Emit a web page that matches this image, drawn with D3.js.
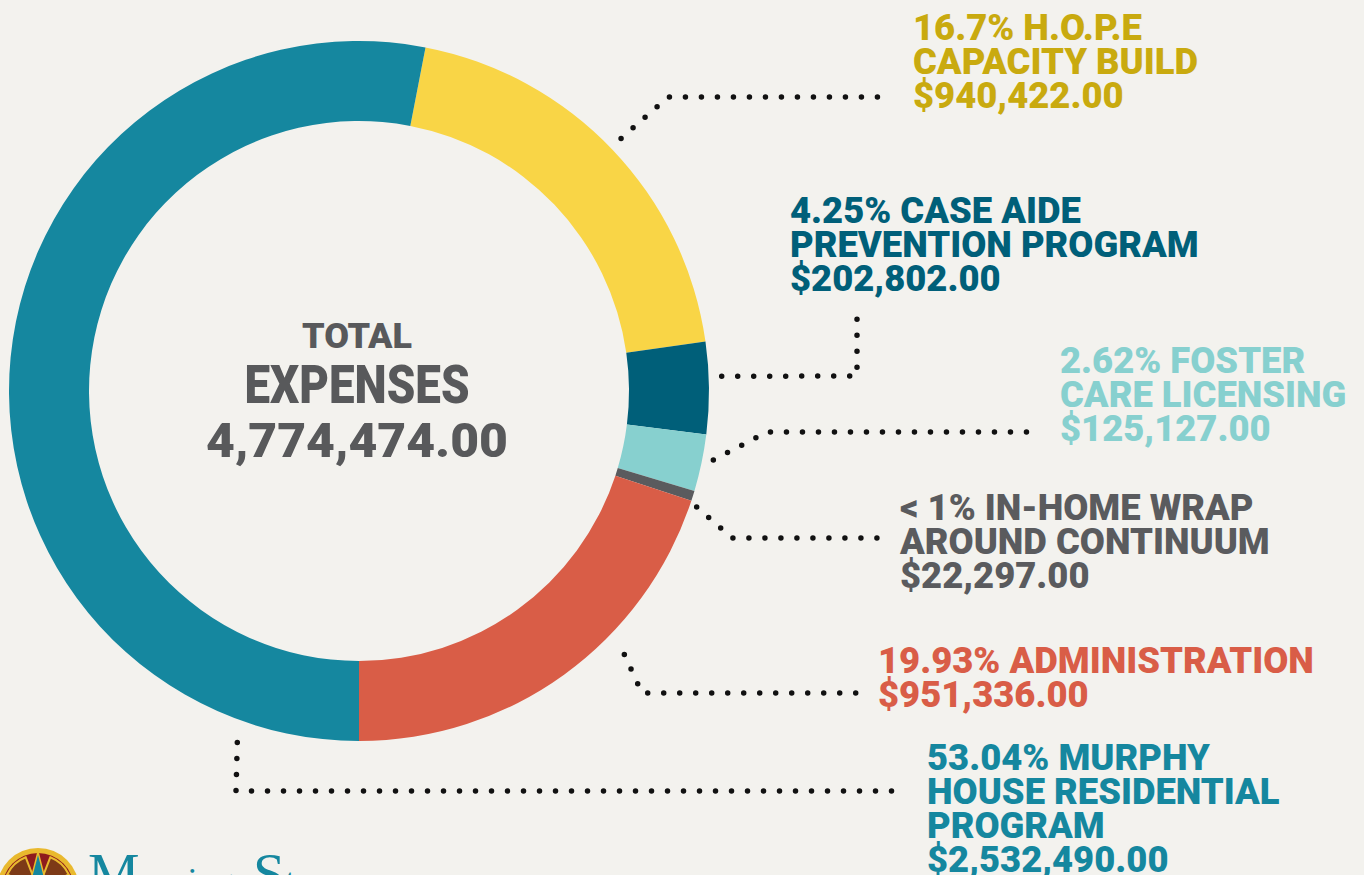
<!DOCTYPE html>
<html>
<head>
<meta charset="utf-8">
<script src="https://cdn.jsdelivr.net/npm/d3@7"></script>
<style>
    html, body { margin: 0; padding: 0; background: #f3f2ee; overflow: hidden; }
    svg { display: block; }
    .lbl { font-family: Roboto, "Open Sans", sans-serif; font-weight: 900; }
</style>
</head>
<body>
<svg id="chart"></svg>
<script>
// chart data
const categories = ["H.O.P.E Capacity Build", "Case Aide Prevention Program", "Foster Care Licensing",
    "In-Home Wrap Around Continuum", "Administration", "Murphy House Residential Program"];
const values = [940422, 202802, 125127, 22297, 951336, 2532490];
const pctLabels = ["16.7%", "4.25%", "2.62%", "< 1%", "19.93%", "53.04%"];
const nameLines = [
    ["H.O.P.E", "CAPACITY BUILD"],
    ["CASE AIDE", "PREVENTION PROGRAM"],
    ["FOSTER", "CARE LICENSING"],
    ["IN-HOME WRAP", "AROUND CONTINUUM"],
    ["ADMINISTRATION"],
    ["MURPHY", "HOUSE RESIDENTIAL", "PROGRAM"]
];
const centerTitle = ["TOTAL", "EXPENSES"];

// styling
const sliceColors = ["#f9d546", "#005f79", "#87d0cf", "#5a5b5e", "#d95d47", "#15879f"];
const textColors = ["#c9aa0f", "#005f79", "#87d0cf", "#5a5b5e", "#d95d47", "#15879f"];

// layout: label anchor (x, first baseline) and leader line bends
const labelPos = [[913, 40], [790, 223], [1060, 373], [900, 520], [878, 673], [927, 770]];
const leaderStart = [[0.495, 14], [0.38, 13], [0.41, 11], [1.4, 7], [0.37, 24], [0.10, 22]];
const leaderBends = [
    [[668, 97], [892, 97]],
    [[857, 376], [857, 310]],
    [[767, 432], [1040, 432]],
    [[732, 538], [889, 538]],
    [[642, 693], [862, 693]],
    [[236, 791], [900, 791]]
];

const width = 1364;
const height = 875;
const cx = 359, cy = 391;
const outerR = 350, innerR = 270;

const svg = d3.select("#chart")
    .attr("width", width)
    .attr("height", height);

svg.append("rect")
    .attr("width", width)
    .attr("height", height)
    .attr("fill", "#f3f2ee");

const total = d3.sum(values);
const murphy = values[values.length - 1];
const start = Math.PI - 2 * Math.PI * (total - murphy) / total;

const pie = d3.pie()
    .sort(null)
    .value(d => d)
    .startAngle(start)
    .endAngle(start + 2 * Math.PI);

const arcs = pie(values);

const arc = d3.arc()
    .innerRadius(innerR)
    .outerRadius(outerR);

const g = svg.append("g").attr("transform", `translate(${cx},${cy})`);

g.selectAll("path")
    .data(arcs)
    .enter().append("path")
    .attr("d", arc)
    .attr("fill", (d, i) => sliceColors[i]);

// center text
const money = d3.format(",.2f");
const centerLines = [
    { text: centerTitle[0], size: 35, y: 348, w: 110 },
    { text: centerTitle[1], size: 53, y: 403, w: 225 },
    { text: money(total), size: 49, y: 457, w: 302 }
];
svg.selectAll("text.center")
    .data(centerLines)
    .enter().append("text")
    .attr("class", "lbl center")
    .attr("x", cx - 2)
    .attr("y", d => d.y)
    .attr("text-anchor", "middle")
    .attr("font-size", d => d.size)
    .attr("fill", "#58595b")
    .attr("textLength", d => d.w)
    .attr("lengthAdjust", "spacingAndGlyphs")
    .text(d => d.text);

// leader lines
const line = d3.line();
arcs.forEach((s, i) => {
    const [t, gap] = leaderStart[i];
    const a = s.startAngle + t * (s.endAngle - s.startAngle);
    const r = outerR + gap;
    const p0 = [cx + r * Math.sin(a), cy - r * Math.cos(a)];
    svg.append("path")
        .attr("d", line([p0, ...leaderBends[i]]))
        .attr("fill", "none")
        .attr("stroke", "#111")
        .attr("stroke-width", 5.5)
        .attr("stroke-linecap", "round")
        .attr("stroke-dasharray", "0 16");
});

// labels
const dollars = d3.format("$,.2f");
const labelG = svg.append("g");
const allLines = [];
arcs.forEach((s, i) => {
    const lines = nameLines[i].slice();
    lines[0] = pctLabels[i] + " " + lines[0];
    lines.push(dollars(values[i]));
    lines.forEach((txt, j) => {
        allLines.push({ txt, i, x: labelPos[i][0], y: labelPos[i][1] + j * 34 });
    });
});

const labelTexts = labelG.selectAll("text")
    .data(allLines)
    .enter().append("text")
    .attr("class", "lbl")
    .attr("x", d => d.x)
    .attr("y", d => d.y)
    .attr("font-size", 37)
    .attr("fill", d => textColors[d.i])
    .text(d => d.txt);

// condense to the reference width of "CAPACITY BUILD"
const refNode = labelTexts.filter(d => d.txt === "CAPACITY BUILD").node();
const k = 285 / refNode.getComputedTextLength();
labelTexts.each(function () {
    const w = this.getComputedTextLength();
    d3.select(this)
        .attr("textLength", w * k)
        .attr("lengthAdjust", "spacingAndGlyphs");
});

// logo at the bottom left (cropped)
const logo = svg.append("g").attr("transform", "translate(38,889)");
logo.append("circle").attr("r", 41).attr("fill", "#e9b92e");
logo.append("circle").attr("r", 36).attr("fill", "#8e1b1d");
const petal = d3.arc().innerRadius(14).outerRadius(34);
[-0.75, 0.75].forEach(c => {
    logo.append("path")
        .attr("d", petal({ startAngle: c - 0.38, endAngle: c + 0.38 }))
        .attr("fill", "#7d3a17")
        .attr("stroke", "#e9b92e")
        .attr("stroke-width", 2);
});
logo.append("path")
    .attr("d", "M0,-37 L8,-6 L-8,-6 Z")
    .attr("fill", "#15879f")
    .attr("stroke", "#e9b92e")
    .attr("stroke-width", 1.5);

const brand = svg.append("text")
    .attr("x", 88)
    .attr("y", 893)
    .attr("fill", "#15879f")
    .attr("font-family", "'Liberation Serif', 'DejaVu Serif', serif");
brand.append("tspan").attr("font-size", 58).text("M");
brand.append("tspan").attr("font-size", 36).text("orning");
brand.append("tspan").attr("x", 253).attr("font-size", 58).text("S");
brand.append("tspan").attr("font-size", 36).text("tar");
</script>
</body>
</html>
